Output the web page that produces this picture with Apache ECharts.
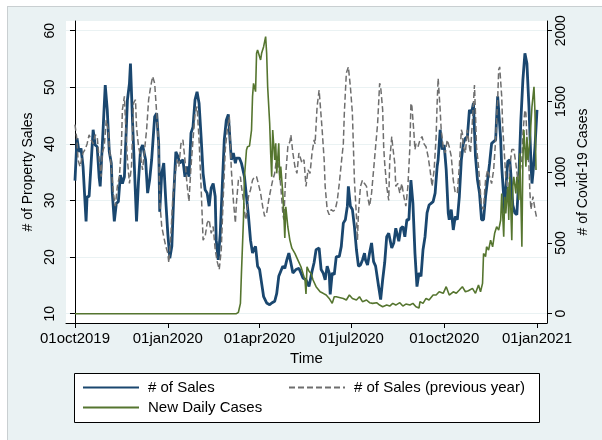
<!DOCTYPE html>
<html>
<head>
<meta charset="utf-8">
<script src="https://cdn.jsdelivr.net/npm/echarts@6/dist/echarts.min.js"></script>
<style>
    html, body { margin: 0; padding: 0; background: #fff; overflow: hidden; }
    #frame { position: absolute; left: 7px; top: 6px; width: 600px; height: 440px; background: #eaf2f3; border: 1px solid #c9cfd1; }
    #chart { position: absolute; left: 0; top: 0; width: 602px; height: 440px; }
</style>
</head>
<body>
<div id="frame"></div>
<div id="chart"></div>
<script>
    // [days since 01oct2019, value]
    const sales = [[0,33.5],[2,41],[4,38.6],[6,39.2],[8,36],[11,26.3],[12,30.7],[14,30.7],[16,36.6],[18,42.5],[20,39.8],[22,39.5],[24,34],[25,32.5],[27,39.5],[28,43],[30,50.4],[32,46],[34,38.6],[36,36.6],[37,31.3],[39,26.3],[41,29.5],[43,29.8],[45,34.5],[47,33],[49,34.2],[52,47.8],[54,50.7],[55,54.2],[57,44.2],[59,35.4],[61,26.3],[63,33.6],[65,39],[67,39.8],[70,37.2],[72,31.3],[74,33.6],[76,37.2],[79,44.8],[81,45.4],[83,40],[84,28],[86,34.8],[88,36.6],[90,30],[92,24.2],[94,19.8],[96,21.9],[98,31.3],[100,38.6],[102,37.8],[104,36.6],[107,37.2],[109,34.2],[111,36],[113,34.2],[115,41.9],[117,43],[119,47.8],[121,49.2],[123,47.2],[125,41.3],[127,34.8],[129,31.9],[131,31.3],[133,29],[135,32.2],[137,33],[139,30.7],[140,23],[142,19.5],[144,24.2],[146,32.5],[148,40.7],[150,44.2],[152,45.2],[155,37.2],[157,38.4],[159,36.6],[160,37.5],[163,37.5],[165,36.6],[168,34.2],[170,30.7],[172,27.2],[174,23],[176,20.7],[177,21.3],[179,21.9],[181,18.4],[183,17.8],[185,15.4],[187,13],[190,11.9],[193,11.6],[195,11.9],[198,12.2],[200,13.6],[202,16.6],[204,17.5],[206,18.4],[208,18],[210,19.5],[212,20.7],[214,19],[216,17.2],[219,17.8],[222,18],[224,17.2],[226,16.3],[229,16],[232,14.8],[235,17.5],[237,19],[239,21.3],[242,21.6],[244,17.8],[246,17.2],[248,16],[250,18.4],[252,17.2],[253,13.4],[255,17.2],[257,16.9],[259,20.1],[262,20.1],[264,21.9],[266,26],[268,26.6],[270,29],[271,32.5],[273,29],[275,28.4],[277,25.4],[279,21.3],[281,18.4],[283,18.6],[285,19.5],[287,20.7],[288,19.5],[290,18.6],[292,20.7],[294,22.5],[296,19.2],[298,18.4],[301,14.8],[303,12.5],[305,16],[307,19],[309,23.6],[311,24.2],[314,21.6],[316,22.5],[318,25.1],[321,22.8],[323,25.1],[325,25.4],[327,23.6],[329,26.6],[331,26.6],[333,33.6],[335,29.5],[337,20.7],[339,14.8],[341,17.2],[343,16.6],[345,21.3],[347,23.6],[349,27.8],[351,29.2],[353,29.5],[355,29.8],[357,31.3],[359,36],[360,37.2],[362,42.5],[364,39],[366,39.8],[368,35.4],[370,27.8],[371,26.6],[373,28.4],[375,24.8],[377,27.2],[379,26.6],[381,30.7],[383,37.2],[385,40.1],[387,41],[389,41.3],[391,46],[393,45.4],[395,47.2],[396,42.5],[397,37.8],[399,33.6],[401,31.3],[403,26.6],[405,26.6],[407,30.7],[409,33.6],[411,36.6],[413,40.1],[415,40.4],[417,40.7],[418,44.8],[419,48.4],[420,46],[422,40.7],[423,36],[425,30.7],[426,27.8],[427,31.9],[429,36.9],[431,37.2],[432,34.8],[434,29.2],[436,27.8],[438,27.5],[440,34.2],[442,44.2],[444,51.3],[446,56],[448,54.2],[450,46.6],[452,36.6],[453,33],[454,34.8],[456,39.5],[458,46]];

    const salesPrev = [[0,43.4],[2,40.7],[3,37.2],[5,36],[8,38.4],[10,39],[12,40],[14,41.6],[16,40.7],[18,40],[20,41.6],[22,41.3],[24,37.2],[26,34.2],[27,38.4],[29,39.5],[31,44.2],[33,42.5],[34,39.5],[36,36],[38,31.3],[40,29],[42,32.5],[44,34.2],[46,39.5],[47,46],[49,48.4],[50,44.2],[52,37.2],[54,33],[56,36],[58,47.2],[60,47.8],[61,43],[63,39.5],[65,37.8],[67,35.4],[69,39],[71,42.5],[73,47.8],[75,50.1],[77,51.9],[79,50.7],[81,45.4],[83,39.5],[84,30],[86,25.4],[88,23.6],[90,21.9],[92,20.7],[93,19],[95,23.6],[97,30.7],[99,34.2],[101,37.2],[103,36],[105,40],[107,40.7],[109,37.2],[111,33],[113,29.8],[115,36],[117,40.7],[119,45.4],[121,46.6],[123,40.7],[125,32.5],[127,23],[129,23.6],[131,26],[133,26.6],[135,24.2],[137,25.4],[139,21.3],[141,19.2],[143,17.8],[145,21.3],[147,30.7],[149,39],[151,42.5],[153,44.8],[155,35.4],[157,30],[159,26],[160,29.5],[162,33.6],[164,34.2],[165,32.5],[167,30],[169,26.6],[170,27.2],[172,30.7],[174,31.9],[176,33.6],[178,34.2],[180,34.2],[182,32.8],[184,31.3],[186,29],[188,27.2],[190,27.8],[192,30],[194,31.9],[196,33.6],[198,34.8],[200,37.8],[202,36],[204,32.5],[206,27.8],[207,26.6],[209,34.8],[211,39.5],[213,40.4],[214,41.6],[216,38.4],[218,36],[220,34.8],[222,38.4],[223,38.1],[225,36.6],[227,37.2],[229,32.5],[231,35.4],[233,34.8],[235,38.4],[237,40.7],[238,40],[240,46.6],[242,49.5],[243,47.2],[245,42.5],[247,37.2],[248,32.5],[250,28.4],[252,27.5],[254,28.4],[256,28.1],[258,28.4],[260,30],[262,33],[264,36.6],[266,40],[267,45.4],[269,52.5],[271,53.6],[273,50.1],[275,45.4],[276,39.5],[277,33.6],[279,27.2],[280,23],[281,27.8],[283,32.5],[285,33.6],[287,33],[289,32.5],[290,30.7],[292,29],[294,31.3],[296,35.4],[298,39.5],[300,43.6],[302,50.7],[303,50.1],[305,46],[306,39.5],[307,36.6],[309,32.5],[311,30],[312,37],[314,41.3],[315,39.5],[317,36.6],[318,32.5],[320,33],[322,31.3],[324,33],[326,30.7],[328,29],[330,32.5],[332,39.5],[333,47.2],[334,46.6],[336,41.9],[337,39],[338,40],[340,39.5],[342,40.7],[344,41.3],[346,40],[348,39.5],[350,37.8],[352,35.4],[354,32.5],[356,35.4],[358,41.3],[359,47.2],[360,51.6],[362,46],[363,42.5],[365,39.5],[367,38.4],[369,40.7],[371,39.5],[373,37.8],[375,33.6],[377,31.3],[379,31.3],[381,36],[383,42.5],[384,41.9],[385,39.5],[387,38.4],[389,42.5],[391,39.5],[392,38.4],[394,44.2],[396,50.4],[397,45.4],[398,39.5],[400,36],[402,31.3],[403,29],[405,28.4],[406,31.3],[407,33.6],[409,35.4],[411,34.2],[413,33],[415,35.4],[417,40.7],[419,47.8],[420,53.1],[421,53.6],[423,48.4],[424,43],[426,37.2],[427,34.2],[429,31.3],[430,31.9],[431,36],[433,39],[435,39],[437,36.6],[439,33.6],[441,34.8],[443,37.2],[444,41.9],[446,46],[447,45.4],[448,40.7],[450,36],[451,31.3],[452,28.4],[454,30.7],[456,28.4],[458,26.6]];

    const cases = [[0,0],[160,0],[162,10],[164,73],[165,285],[167,662],[168,968],[170,1157],[171,1180],[173,1185],[175,1298],[176,1534],[177,1628],[179,1569],[180,1840],[181,1864],[183,1816],[184,1793],[185,1840],[187,1887],[189,1958],[190,1840],[191,1604],[193,1345],[194,1133],[195,968],[196,1298],[198,1086],[199,1204],[200,992],[202,1204],[203,945],[204,1039],[206,850],[207,709],[208,535],[209,755],[211,613],[213,520],[215,463],[218,426],[221,379],[224,332],[226,285],[228,238],[229,140],[230,332],[232,300],[234,285],[236,238],[239,191],[243,155],[246,144],[249,132],[252,108],[255,73],[257,120],[259,120],[262,115],[266,108],[269,97],[272,132],[275,108],[279,97],[282,120],[285,85],[289,97],[292,78],[295,73],[299,78],[302,61],[305,49],[309,61],[312,54],[315,73],[318,61],[322,78],[325,54],[328,68],[332,61],[335,73],[338,49],[341,40],[342,85],[345,73],[348,108],[351,97],[355,132],[358,132],[361,155],[365,144],[368,191],[371,132],[375,155],[378,144],[381,167],[384,191],[387,155],[390,162],[394,179],[397,144],[400,203],[402,155],[404,214],[405,426],[407,403],[408,473],[410,450],[412,520],[414,473],[416,568],[418,615],[420,591],[422,662],[423,850],[425,544],[426,827],[427,709],[429,897],[430,662],[431,968],[433,520],[434,897],[435,968],[437,850],[438,968],[440,803],[441,1133],[443,473],[444,1086],[445,1298],[447,1039],[448,1251],[449,1086],[451,1227],[453,1463],[455,1604],[456,1416],[457,1015]];

    const salesTicks = [10, 20, 30, 40, 50, 60];
    const casesTicks = [0, 500, 1000, 1500, 2000];
    // tick days since 01oct2019: 01oct2019, 01jan2020, 01apr2020, 01jul2020, 01oct2020, 01jan2021
    const dateTicks = [0, 92, 183, 274, 366, 458];

    const DAY = 86400000;
    const start = Date.UTC(2019, 9, 1);
    const months = ['jan','feb','mar','apr','may','jun','jul','aug','sep','oct','nov','dec'];
    const fmtDate = v => {
        const d = new Date(start + Math.round(v) * DAY);
        return String(d.getUTCDate()).padStart(2, '0') + months[d.getUTCMonth()] + d.getUTCFullYear();
    };

    const font = "'Liberation Sans', Arial, sans-serif";
    const axisColor = '#000';

    const chart = echarts.init(document.getElementById('chart'), null, { renderer: 'canvas' });
    const option = {
        backgroundColor: 'transparent',
        animation: false,
        textStyle: { fontFamily: font, color: '#000' },
        grid: {
            left: 66, right: 55, top: 21, bottom: 117,
            show: true, backgroundColor: '#fff', borderWidth: 0
        },
        graphic: [{
            type: 'rect',
            shape: { x: 74.5, y: 373.5, width: 465, height: 49 },
            style: { fill: '#fff', stroke: '#000', lineWidth: 1 }
        }],
        legend: [{
            data: ['# of Sales', 'New Daily Cases'],
            orient: 'vertical',
            left: 77, top: 375,
            itemWidth: 56, itemHeight: 14, itemGap: 5,
            itemStyle: { opacity: 0 },
            textStyle: { fontSize: 15, fontFamily: font, color: '#000', padding: [0, 0, 0, 4] }
        }, {
            data: ['# of Sales (previous year)'],
            orient: 'vertical',
            left: 283, top: 375,
            itemWidth: 56, itemHeight: 14,
            itemStyle: { opacity: 0 },
            textStyle: { fontSize: 15, fontFamily: font, color: '#000', padding: [0, 0, 0, 4] }
        }],
        xAxis: {
            type: 'value',
            min: -8.9,
            max: 467.9,
            name: 'Time',
            nameLocation: 'middle',
            nameGap: 25,
            nameTextStyle: { fontSize: 15, fontFamily: font, color: '#000' },
            axisLine: { onZero: false, lineStyle: { color: axisColor, width: 1 } },
            axisTick: { customValues: dateTicks, length: 5, lineStyle: { color: axisColor } },
            axisLabel: { customValues: dateTicks, formatter: fmtDate, fontSize: 15, color: '#000', margin: 8 },
            splitLine: { show: false }
        },
        yAxis: [{
            type: 'value',
            position: 'left',
            min: 8.36, max: 61.71,
            name: '# of Property Sales',
            nameLocation: 'middle',
            nameRotate: 90,
            nameGap: 25,
            nameTextStyle: { fontSize: 14, fontFamily: font, color: '#000' },
            axisLine: { show: true, lineStyle: { color: axisColor, width: 1 } },
            axisTick: { show: true, customValues: salesTicks, length: 5, lineStyle: { color: axisColor } },
            axisLabel: { customValues: salesTicks, rotate: 90, fontSize: 14, color: '#000', margin: 9, formatter: v => String(v) },
            splitLine: { show: true, lineStyle: { color: '#eaf2f3', width: 1.2 } }
        }, {
            type: 'value',
            position: 'right',
            min: -65.7, max: 2068.5,
            name: '# of Covid-19 Cases',
            nameLocation: 'middle',
            nameRotate: 90,
            nameGap: 21,
            nameTextStyle: { fontSize: 14, fontFamily: font, color: '#000' },
            axisLine: { show: true, lineStyle: { color: axisColor, width: 1 } },
            axisTick: { show: true, customValues: casesTicks, length: 5, lineStyle: { color: axisColor } },
            axisLabel: { customValues: casesTicks, rotate: 90, fontSize: 14, color: '#000', margin: 7, formatter: v => String(v) },
            splitLine: { show: false }
        }],
        series: [{
            name: '# of Sales',
            type: 'line',
            yAxisIndex: 0,
            symbol: 'none',
            data: sales,
            lineStyle: { color: '#1a476f', width: 2.8 },
            itemStyle: { color: '#1a476f' }
        }, {
            name: '# of Sales (previous year)',
            type: 'line',
            yAxisIndex: 0,
            symbol: 'none',
            data: salesPrev,
            lineStyle: { color: '#6e6e6e', width: 1.5, type: [6, 3] },
            itemStyle: { color: '#6e6e6e' }
        }, {
            name: 'New Daily Cases',
            type: 'line',
            yAxisIndex: 1,
            symbol: 'none',
            data: cases,
            lineStyle: { color: '#55752f', width: 1.6 },
            itemStyle: { color: '#55752f' }
        }]
    };
    chart.setOption(option);

    window.addEventListener('resize', function () {
        chart.resize();
    });
</script>
</body>
</html>
